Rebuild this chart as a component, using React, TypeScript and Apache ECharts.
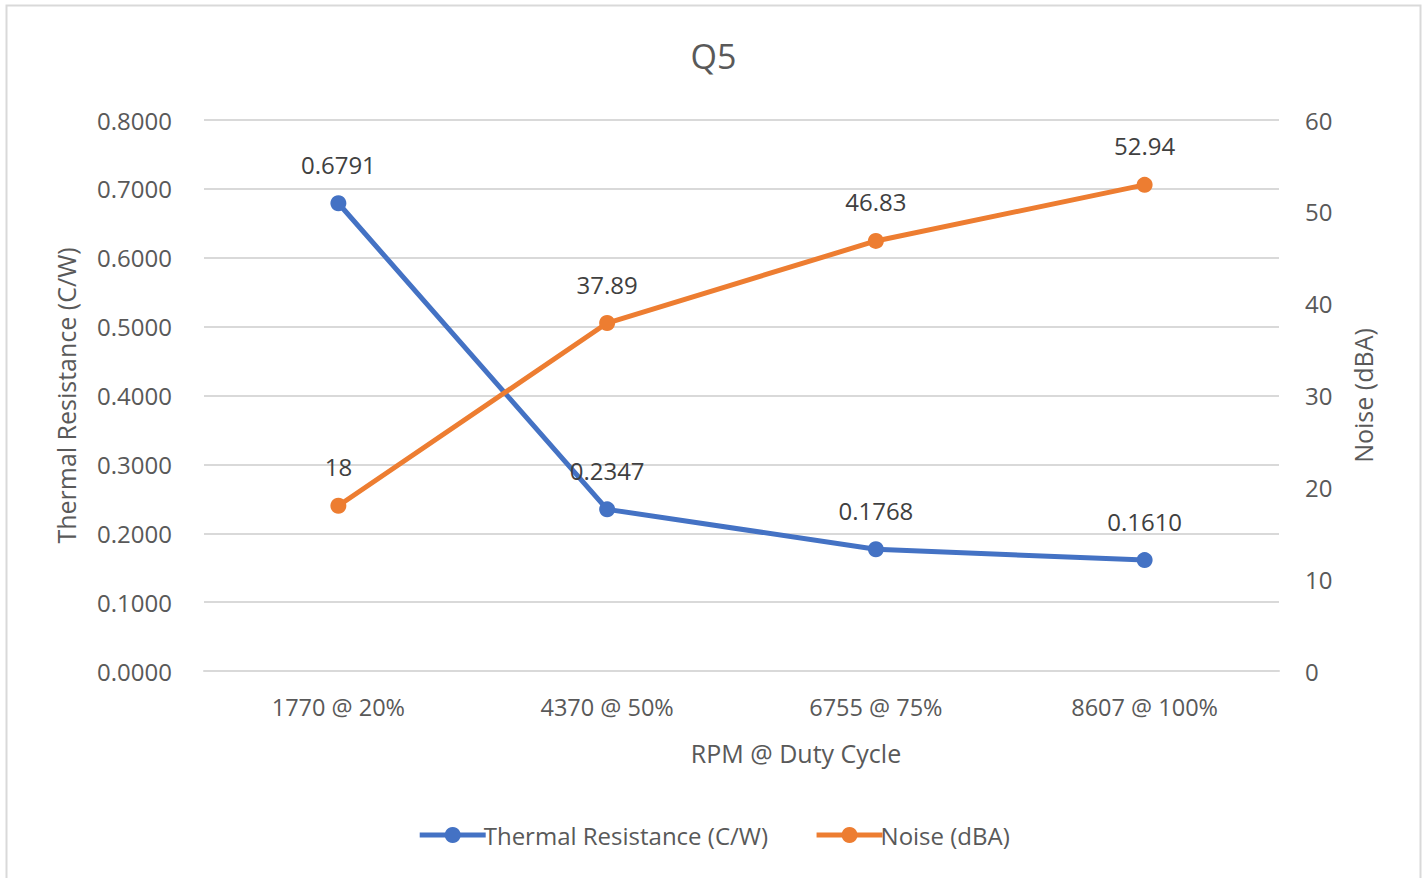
import React, { useEffect, useRef } from "react";
import * as echarts from "echarts";

const categories = ["1770 @ 20%", "4370 @ 50%", "6755 @ 75%", "8607 @ 100%"];
const thermalResistance = [0.6791, 0.2347, 0.1768, 0.161];
const noise = [18, 37.89, 46.83, 52.94];
const thermalLabels = ["0.6791", "0.2347", "0.1768", "0.1610"];
const noiseLabels = ["18", "37.89", "46.83", "52.94"];

const FONT = "'Open Sans', 'Noto Sans', sans-serif";
const GRAY = "#595959";

export default function App() {
  const ref = useRef<HTMLDivElement>(null);
  useEffect(() => {
    const chart = echarts.init(ref.current!, null, { renderer: "svg" });
    chart.setOption({
      animation: false,
      backgroundColor: "#ffffff",
      textStyle: { fontFamily: FONT, color: GRAY },
      title: {
        text: "Q5",
        left: "center",
        top: 34,
        textStyle: { fontSize: 34, fontWeight: "normal", color: GRAY, fontFamily: FONT },
      },
      graphic: [
        {
          type: "rect",
          shape: { x: 6.5, y: 5.5, width: 1414, height: 900 },
          style: { fill: "none", stroke: "#d9d9d9", lineWidth: 2 },
          silent: true,
        },
        {
          type: "text",
          x: 796,
          y: 753,
          style: {
            text: "RPM @ Duty Cycle",
            fontSize: 25,
            fontFamily: FONT,
            fill: GRAY,
            align: "center",
            verticalAlign: "middle",
          },
        },
      ],
      legend: {
        bottom: 26,
        left: "center",
        itemWidth: 66,
        itemHeight: 20,
        itemGap: 46,
        lineStyle: { width: 5 },
        textStyle: { fontSize: 24, color: GRAY, fontFamily: FONT, padding: [0, 0, 0, -7] },
        data: ["Thermal Resistance (C/W)", "Noise (dBA)"],
      },
      grid: { left: 204, right: 148, top: 120, bottom: 207, containLabel: false },
      xAxis: {
        type: "category",
        data: categories,
        boundaryGap: true,
        axisLine: { show: true, lineStyle: { color: "#d9d9d9", width: 2 } },
        axisTick: { show: false },
        axisLabel: { fontSize: 23.5, color: GRAY, margin: 24, fontFamily: FONT },
      },
      yAxis: [
        {
          type: "value",
          min: 0,
          max: 0.8,
          interval: 0.1,
          name: "Thermal Resistance (C/W)",
          nameLocation: "middle",
          nameGap: 126,
          nameRotate: 90,
          nameTextStyle: { fontSize: 25, color: GRAY, fontFamily: FONT },
          axisLine: { show: false },
          axisTick: { show: false },
          axisLabel: {
            fontSize: 24,
            color: GRAY,
            margin: 32,
            fontFamily: FONT,
            formatter: (v: number) => v.toFixed(4),
          },
          splitLine: { show: true, lineStyle: { color: "#d9d9d9", width: 2 } },
        },
        {
          type: "value",
          min: 0,
          max: 60,
          interval: 10,
          name: "Noise (dBA)",
          nameLocation: "middle",
          nameGap: 71,
          nameRotate: 90,
          nameTextStyle: { fontSize: 25, color: GRAY, fontFamily: FONT },
          axisLine: { show: false },
          axisTick: { show: false },
          axisLabel: { fontSize: 24, color: GRAY, margin: 26, fontFamily: FONT },
          splitLine: { show: false },
        },
      ],
      series: [
        {
          name: "Thermal Resistance (C/W)",
          type: "line",
          yAxisIndex: 0,
          data: thermalResistance,
          symbol: "circle",
          symbolSize: 16,
          color: "#4472C4",
          lineStyle: { width: 5, color: "#4472C4" },
          itemStyle: { color: "#4472C4" },
          label: {
            show: true,
            position: "top",
            distance: 19,
            fontSize: 24,
            color: "#404040",
            fontFamily: FONT,
            formatter: (p: any) => thermalLabels[p.dataIndex],
          },
        },
        {
          name: "Noise (dBA)",
          type: "line",
          yAxisIndex: 1,
          data: noise,
          symbol: "circle",
          symbolSize: 16,
          color: "#ED7D31",
          lineStyle: { width: 5, color: "#ED7D31" },
          itemStyle: { color: "#ED7D31" },
          label: {
            show: true,
            position: "top",
            distance: 19,
            fontSize: 24,
            color: "#404040",
            fontFamily: FONT,
            formatter: (p: any) => noiseLabels[p.dataIndex],
          },
        },
      ],
    });
    return () => chart.dispose();
  }, []);
  return (
    <div
      ref={ref}
      style={{ position: "fixed", left: 0, top: 0, width: 1427, height: 878 }}
    />
  );
}
